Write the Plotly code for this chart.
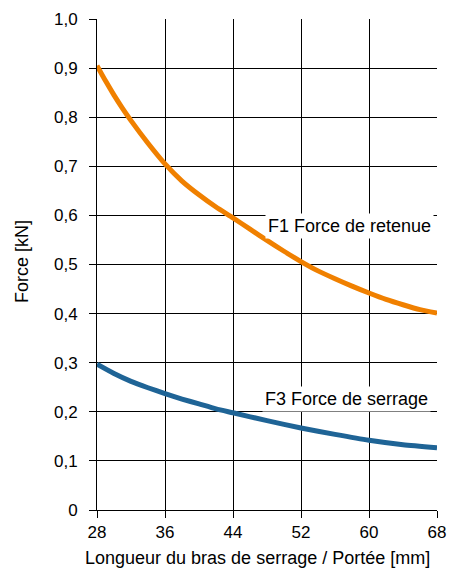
import plotly.graph_objects as go

# Data
x_f1 = [28, 29, 30, 31, 32, 34, 36, 38, 40, 42, 44, 46, 48, 50, 52, 54, 56, 58, 60, 62, 64, 66, 68]
y_f1 = [0.905, 0.874, 0.845, 0.818, 0.793, 0.747, 0.705, 0.670, 0.642, 0.617, 0.595, 0.572, 0.549, 0.527, 0.506,
        0.487, 0.471, 0.456, 0.442, 0.429, 0.418, 0.408, 0.401]
x_f3 = [28, 30, 32, 34, 36, 38, 40, 42, 44, 48, 52, 56, 60, 64, 68]
y_f3 = [0.297, 0.278, 0.262, 0.249, 0.237, 0.226, 0.216, 0.206, 0.198, 0.182, 0.167, 0.154, 0.142, 0.133, 0.127]

x_ticks = [28, 36, 44, 52, 60, 68]
y_ticks = [0, 0.1, 0.2, 0.3, 0.4, 0.5, 0.6, 0.7, 0.8, 0.9, 1.0]
y_ticktext = ["0", "0,1", "0,2", "0,3", "0,4", "0,5", "0,6", "0,7", "0,8", "0,9", "1,0"]

label_f1 = "F1 Force de retenue"
label_f3 = "F3 Force de serrage"
x_title = "Longueur du bras de serrage / Portée [mm]"
y_title = "Force [kN]"

FONT = "Liberation Sans, Arial, sans-serif"

fig = go.Figure()
fig.add_trace(go.Scatter(x=x_f1, y=y_f1, mode="lines", line=dict(color="#F08000", width=5, shape="spline", smoothing=0.6),
                         hoverinfo="skip", showlegend=False))
fig.add_trace(go.Scatter(x=x_f3, y=y_f3, mode="lines", line=dict(color="#1F6496", width=5, shape="spline", smoothing=0.6),
                         hoverinfo="skip", showlegend=False))

fig.add_annotation(x=67.6, y=0.578, xref="x", yref="y", text=label_f1, showarrow=False,
                   xanchor="right", yanchor="middle", bgcolor="white", borderpad=2,
                   font=dict(family=FONT, size=18, color="black"))
fig.add_annotation(x=67.3, y=0.226, xref="x", yref="y", text=label_f3, showarrow=False,
                   xanchor="right", yanchor="middle", bgcolor="white", borderpad=2,
                   font=dict(family=FONT, size=18, color="black"))

# axis titles as annotations (positioned like the reference)
fig.add_annotation(x=0.4735, y=-0.098, xref="paper", yref="paper", text=x_title, showarrow=False,
                   xanchor="center", yanchor="middle", font=dict(family=FONT, size=18, color="black"))
fig.add_annotation(x=-0.2206, y=0.507, xref="paper", yref="paper", text=y_title, showarrow=False,
                   textangle=-90, xanchor="center", yanchor="middle", font=dict(family=FONT, size=18, color="black"))

fig.update_layout(
    width=449, height=574,
    margin=dict(l=97, r=12, t=19, b=64, autoexpand=False),
    paper_bgcolor="white", plot_bgcolor="white",
    font=dict(family=FONT, size=17, color="black"),
    showlegend=False,
)
fig.update_xaxes(range=[28, 68], tickvals=x_ticks, ticks="outside", ticklen=7, tickcolor="black",
                 showgrid=True, gridcolor="black", gridwidth=1, showline=True, linecolor="black", linewidth=1,
                 zeroline=False, mirror=False, automargin=False, ticklabelstandoff=0,
                 tickfont=dict(size=17))
fig.update_yaxes(range=[0, 1.0], tickvals=y_ticks, ticktext=y_ticktext, ticks="outside", ticklen=7, tickcolor="black",
                 showgrid=True, gridcolor="black", gridwidth=1, showline=True, linecolor="black", linewidth=1,
                 zeroline=False, ticklabelstandoff=8, automargin=False,
                 tickfont=dict(size=17))

fig.write_html("out.html", config={"displayModeBar": False},
               post_script="document.body.style.margin='0';document.body.style.overflow='hidden';")
